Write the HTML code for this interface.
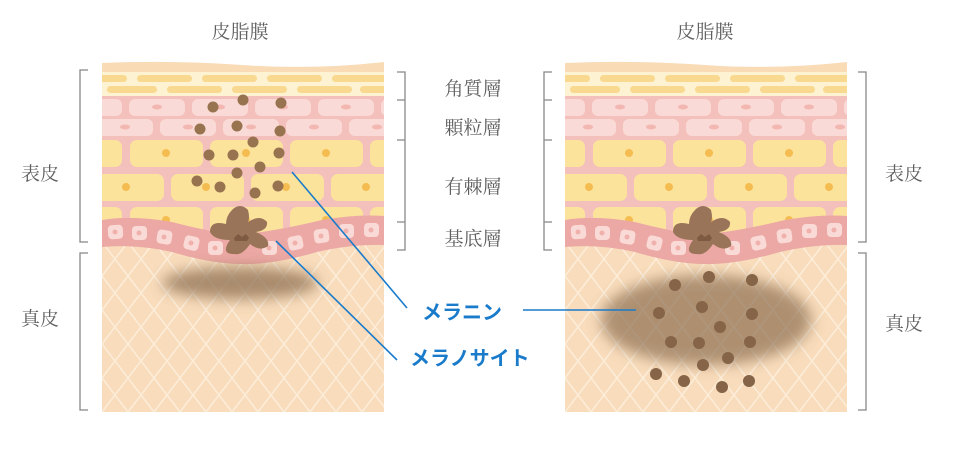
<!DOCTYPE html>
<html><head><meta charset="utf-8"><style>
html,body{margin:0;padding:0;background:#fff;}
svg{display:block;}
.t{font-family:"Liberation Serif","Noto Serif CJK SC",serif;fill:#5f5f5f;font-size:19px;}
.b{font-family:"Liberation Sans","Noto Sans CJK JP",sans-serif;fill:#1a7bcb;font-size:20px;font-weight:bold;}
</style></head><body>
<svg width="956" height="475" viewBox="0 0 956 475" xmlns="http://www.w3.org/2000/svg">
<defs>
<pattern id="lat" width="26" height="34" patternUnits="userSpaceOnUse" x="0" y="250">
<rect width="26" height="34" fill="#f8dcbb"/>
<path d="M0 0 L26 34 M26 0 L0 34" stroke="#fcecd8" stroke-width="1.6"/>
</pattern>
<filter id="bl" x="-50%" y="-50%" width="200%" height="200%"><feGaussianBlur stdDeviation="7"/></filter>
<clipPath id="cp"><rect x="0" y="0" width="282" height="352"/></clipPath>
<g id="skin" clip-path="url(#cp)">
<rect x="0" y="150" width="282" height="210" fill="url(#lat)"/>
<path d="M0 3 Q70 0 140 5 T282 2 L282 20 L0 20Z" fill="#f9dbb6"/>
<rect x="0" y="12" width="282" height="24" fill="#fdf3d3"/>
<g fill="#f8d98f">
<rect x="-20" y="15" width="45" height="7" rx="3.5"/><rect x="35" y="15" width="55" height="7" rx="3.5"/><rect x="100" y="15" width="55" height="7" rx="3.5"/><rect x="165" y="15" width="55" height="7" rx="3.5"/><rect x="230" y="15" width="55" height="7" rx="3.5"/>
<rect x="5" y="26" width="50" height="7" rx="3.5"/><rect x="65" y="26" width="55" height="7" rx="3.5"/><rect x="130" y="26" width="55" height="7" rx="3.5"/><rect x="195" y="26" width="55" height="7" rx="3.5"/><rect x="258" y="26" width="40" height="7" rx="3.5"/>
</g>
<rect x="0" y="36" width="282" height="134" fill="#f4c0bb"/>
<g fill="#fadad6">
<rect x="-30" y="39" width="50" height="17" rx="6"/><rect x="27" y="39" width="56" height="17" rx="6"/><rect x="90" y="39" width="56" height="17" rx="6"/><rect x="153" y="39" width="56" height="17" rx="6"/><rect x="216" y="39" width="56" height="17" rx="6"/><rect x="279" y="39" width="40" height="17" rx="6"/>
<rect x="-5" y="59" width="56" height="17" rx="6"/><rect x="58" y="59" width="56" height="17" rx="6"/><rect x="121" y="59" width="56" height="17" rx="6"/><rect x="184" y="59" width="56" height="17" rx="6"/><rect x="247" y="59" width="56" height="17" rx="6"/>
</g>
<g fill="#f3b7b2">
<ellipse cx="55" cy="47" rx="5" ry="2.5"/><ellipse cx="118" cy="47" rx="5" ry="2.5"/><ellipse cx="181" cy="47" rx="5" ry="2.5"/><ellipse cx="244" cy="47" rx="5" ry="2.5"/>
<ellipse cx="23" cy="67" rx="5" ry="2.5"/><ellipse cx="86" cy="67" rx="5" ry="2.5"/><ellipse cx="149" cy="67" rx="5" ry="2.5"/><ellipse cx="212" cy="67" rx="5" ry="2.5"/><ellipse cx="275" cy="67" rx="5" ry="2.5"/>
</g>
<g fill="#fbe39c">
<rect x="-30" y="80" width="50" height="27" rx="7"/><rect x="28" y="80" width="73" height="27" rx="7"/><rect x="108" y="80" width="73" height="27" rx="7"/><rect x="188" y="80" width="73" height="27" rx="7"/><rect x="268" y="80" width="40" height="27" rx="7"/>
<rect x="-10" y="114" width="72" height="27" rx="7"/><rect x="69" y="114" width="73" height="27" rx="7"/><rect x="149" y="114" width="73" height="27" rx="7"/><rect x="229" y="114" width="73" height="27" rx="7"/>
<rect x="-30" y="147" width="50" height="27" rx="7"/><rect x="28" y="147" width="73" height="27" rx="7"/><rect x="108" y="147" width="73" height="27" rx="7"/><rect x="188" y="147" width="73" height="27" rx="7"/><rect x="268" y="147" width="40" height="27" rx="7"/>
</g>
<g fill="#f5bc52">
<circle cx="64" cy="93" r="4"/><circle cx="144" cy="93" r="4"/><circle cx="224" cy="93" r="4"/>
<circle cx="24" cy="127" r="4"/><circle cx="104" cy="127" r="4"/><circle cx="184" cy="127" r="4"/><circle cx="264" cy="127" r="4"/>
<circle cx="64" cy="160" r="4"/><circle cx="144" cy="160" r="4"/><circle cx="224" cy="160" r="4"/>
</g>
<path d="M0 160 Q30 155 70 162 Q120 175 140 174 Q170 172 220 160 Q255 154 282 156 L282 185 Q250 184 215 192 Q170 205 140 204 Q110 204 70 192 Q35 184 0 187Z" fill="#eca8a4"/>
<g fill="#fadad6">
<rect x="6" y="165" width="15" height="14" rx="4" transform="rotate(-4 13 172)"/><rect x="30" y="166" width="15" height="14" rx="4"/><rect x="55" y="170" width="15" height="14" rx="4" transform="rotate(10 62 177)"/><rect x="82" y="176" width="15" height="14" rx="4" transform="rotate(14 89 183)"/><rect x="106" y="181" width="15" height="14" rx="4"/>
<rect x="160" y="181" width="15" height="14" rx="4"/><rect x="186" y="176" width="15" height="14" rx="4" transform="rotate(-12 193 183)"/><rect x="212" y="169" width="15" height="14" rx="4" transform="rotate(-8 219 176)"/><rect x="237" y="164" width="15" height="14" rx="4"/><rect x="262" y="163" width="15" height="14" rx="4"/>
</g>
<g fill="#f0b0ab"><circle cx="13" cy="172" r="2.5"/><circle cx="37" cy="173" r="2.5"/><circle cx="62" cy="177" r="2.5"/><circle cx="89" cy="183" r="2.5"/><circle cx="113" cy="188" r="2.5"/><circle cx="167" cy="188" r="2.5"/><circle cx="193" cy="183" r="2.5"/><circle cx="219" cy="176" r="2.5"/><circle cx="244" cy="171" r="2.5"/><circle cx="269" cy="170" r="2.5"/></g>
<g fill="#9a7458">
<path d="M130 150 Q138 142 146 150 Q148 158 146 162 Q158 154 165 162 Q166 170 154 172 Q168 178 166 186 Q158 192 148 184 Q140 196 132 194 Q118 194 128 180 Q112 180 108 172 Q108 160 124 164 Q124 156 130 150Z"/>
</g>
<path d="M132 178 l4 -4 4 3 4 -3 3 4 -2 3 h-12z" fill="#7d5a41"/>
</g>
</defs>

<text class="t" x="240" y="38" text-anchor="middle">皮脂膜</text>
<text class="t" x="705" y="38" text-anchor="middle">皮脂膜</text>

<use href="#skin" x="102" y="60"/>
<use href="#skin" x="565" y="60"/>

<ellipse cx="240" cy="283" rx="78" ry="16" fill="#8f7152" opacity="0.75" filter="url(#bl)"/>
<ellipse cx="706" cy="320" rx="105" ry="45" fill="#8f7152" opacity="0.7" filter="url(#bl)"/>

<g fill="#98734f">
<circle cx="213" cy="107" r="5.5"/><circle cx="243" cy="100" r="5.5"/><circle cx="281" cy="103" r="5.5"/>
<circle cx="200" cy="129" r="5.5"/><circle cx="237" cy="126" r="5.5"/><circle cx="280" cy="131" r="5.5"/>
<circle cx="253" cy="142" r="5.5"/><circle cx="209" cy="155" r="5.5"/><circle cx="233" cy="155" r="5.5"/><circle cx="279" cy="153" r="5.5"/>
<circle cx="260" cy="167" r="5.5"/><circle cx="237" cy="173" r="5.5"/><circle cx="197" cy="181" r="5.5"/><circle cx="220" cy="187" r="5.5"/><circle cx="278" cy="186" r="5.5"/><circle cx="255" cy="193" r="5.5"/>
</g>
<g fill="#856447">
<circle cx="675" cy="285" r="6"/><circle cx="709" cy="277" r="6"/><circle cx="752" cy="280" r="6"/>
<circle cx="659" cy="313" r="6"/><circle cx="702" cy="307" r="6"/><circle cx="752" cy="314" r="6"/>
<circle cx="720" cy="327" r="6"/><circle cx="671" cy="342" r="6"/><circle cx="699" cy="343" r="6"/><circle cx="750" cy="342" r="6"/>
<circle cx="728" cy="358" r="6"/><circle cx="703" cy="365" r="6"/><circle cx="656" cy="374" r="6"/><circle cx="684" cy="381" r="6"/><circle cx="749" cy="381" r="6"/><circle cx="722" cy="387" r="6"/>
</g>

<g stroke="#888" stroke-width="1.3" fill="none">
<path d="M88 70 H80 V242 H88"/>
<path d="M88 253 H80 V410 H88"/>
<path d="M397 72 H405 V100 H397 M405 100 V140 H397 M405 140 V222 H397 M405 222 V250 H397"/>
<path d="M552 72 H544 V100 H552 M544 100 V140 H552 M544 140 V222 H552 M544 222 V250 H552"/>
<path d="M858 72 H866 V242 H858"/>
<path d="M858 253 H866 V410 H858"/>
</g>
<text class="t" x="40" y="180" text-anchor="middle">表皮</text>
<text class="t" x="40" y="325" text-anchor="middle">真皮</text>
<text class="t" x="904" y="180" text-anchor="middle">表皮</text>
<text class="t" x="904" y="330" text-anchor="middle">真皮</text>
<text class="t" x="473" y="95" text-anchor="middle">角質層</text>
<text class="t" x="473" y="134" text-anchor="middle">顆粒層</text>
<text class="t" x="473" y="193" text-anchor="middle">有棘層</text>
<text class="t" x="473" y="245" text-anchor="middle">基底層</text>

<g stroke="#1a7bcb" stroke-width="1.6">
<line x1="292" y1="172" x2="407" y2="308"/>
<line x1="276" y1="241" x2="397" y2="360"/>
<line x1="523" y1="310" x2="636" y2="310"/>
</g>
<text class="b" x="422" y="319">メラニン</text>
<text class="b" x="410" y="365">メラノサイト</text>
</svg>
</body></html>
